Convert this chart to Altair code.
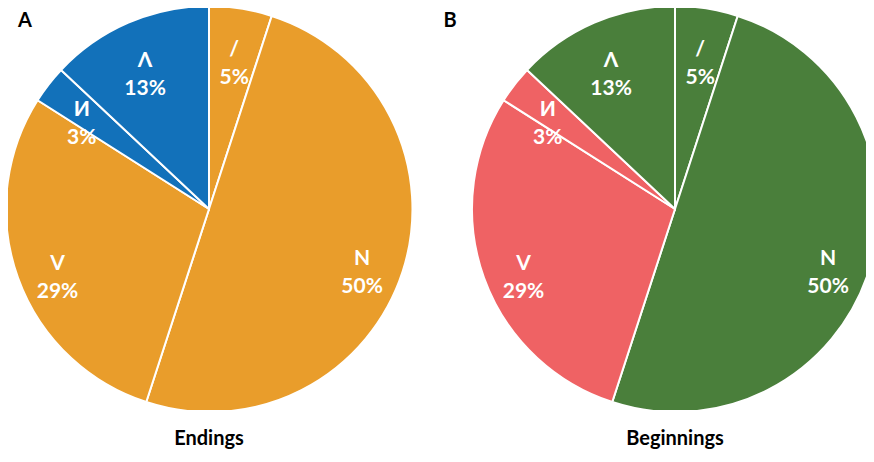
import altair as alt
import pandas as pd

# ---- data ----
panels = ["Endings", "Beginnings"]
panel_letters = ["A", "B"]
labels = ["/", "N", "V", "И", "Λ"]
values = [5, 50, 29, 3, 13]
endings_group = ["orange", "orange", "orange", "blue", "blue"]
beginnings_group = ["green", "green", "red", "red", "green"]
palette = {"orange": "#E99D2B", "blue": "#1271BA", "green": "#4A7F3B", "red": "#EF6264"}

FONT = "Lato"
W, H = 858, 402
R = 203

rows = []
for panel, groups in zip(panels, [endings_group, beginnings_group]):
    for i, (lab, val, grp) in enumerate(zip(labels, values, groups)):
        rows.append({"panel": panel, "label": lab, "value": val, "group": grp,
                     "idx": i, "text": f"{lab}\n{val}%"})
df = pd.DataFrame(rows)

xscale = alt.Scale(type="point", domain=panels, range=[201, 667], padding=0)
tscale = alt.Scale(domain=[0, 100])

base = alt.Chart(df).transform_window(
    cum="sum(value)", groupby=["panel"], sort=[alt.SortField("idx")], frame=[None, 0]
).transform_calculate(
    start="datum.cum - datum.value", mid="datum.cum - datum.value / 2"
)

arcs = base.mark_arc(outerRadius=R, stroke="white", strokeWidth=2, clip=True).encode(
    x=alt.X("panel:N", scale=xscale, axis=None),
    theta=alt.Theta("start:Q", scale=tscale, stack=None),
    theta2="cum:Q",
    color=alt.Color("group:N",
                    scale=alt.Scale(domain=list(palette.keys()), range=list(palette.values())),
                    legend=None),
)

slice_text = base.mark_text(
    radius=161, font=FONT, fontSize=21, fontWeight="bold", color="white",
    lineBreak="\n", lineHeight=28, align="center", baseline="middle",
).encode(
    x=alt.X("panel:N", scale=xscale, axis=None),
    theta=alt.Theta("mid:Q", scale=tscale, stack=None),
    text="text:N",
)

tdf = pd.DataFrame({"panel": panels, "letter": panel_letters})
titles = alt.Chart(tdf).mark_text(
    font=FONT, fontSize=20, fontWeight="bold", color="black",
    align="center", baseline="middle",
).encode(
    x=alt.X("panel:N", scale=xscale, axis=None),
    y=alt.value(431),
    text="panel:N",
)

letter_a = alt.Chart(tdf.iloc[[0]]).mark_text(
    font=FONT, fontSize=20, fontWeight="bold", color="black",
    align="center", baseline="middle",
).encode(x=alt.value(17), y=alt.value(13), text="letter:N")

letter_b = alt.Chart(tdf.iloc[[1]]).mark_text(
    font=FONT, fontSize=20, fontWeight="bold", color="black",
    align="center", baseline="middle",
).encode(x=alt.value(442), y=alt.value(13), text="letter:N")

chart = alt.layer(arcs, slice_text, titles, letter_a, letter_b).properties(
    width=W, height=H, padding=0
).configure_view(stroke=None)

chart.save("out.html", embed_options={"renderer": "svg", "actions": False})
